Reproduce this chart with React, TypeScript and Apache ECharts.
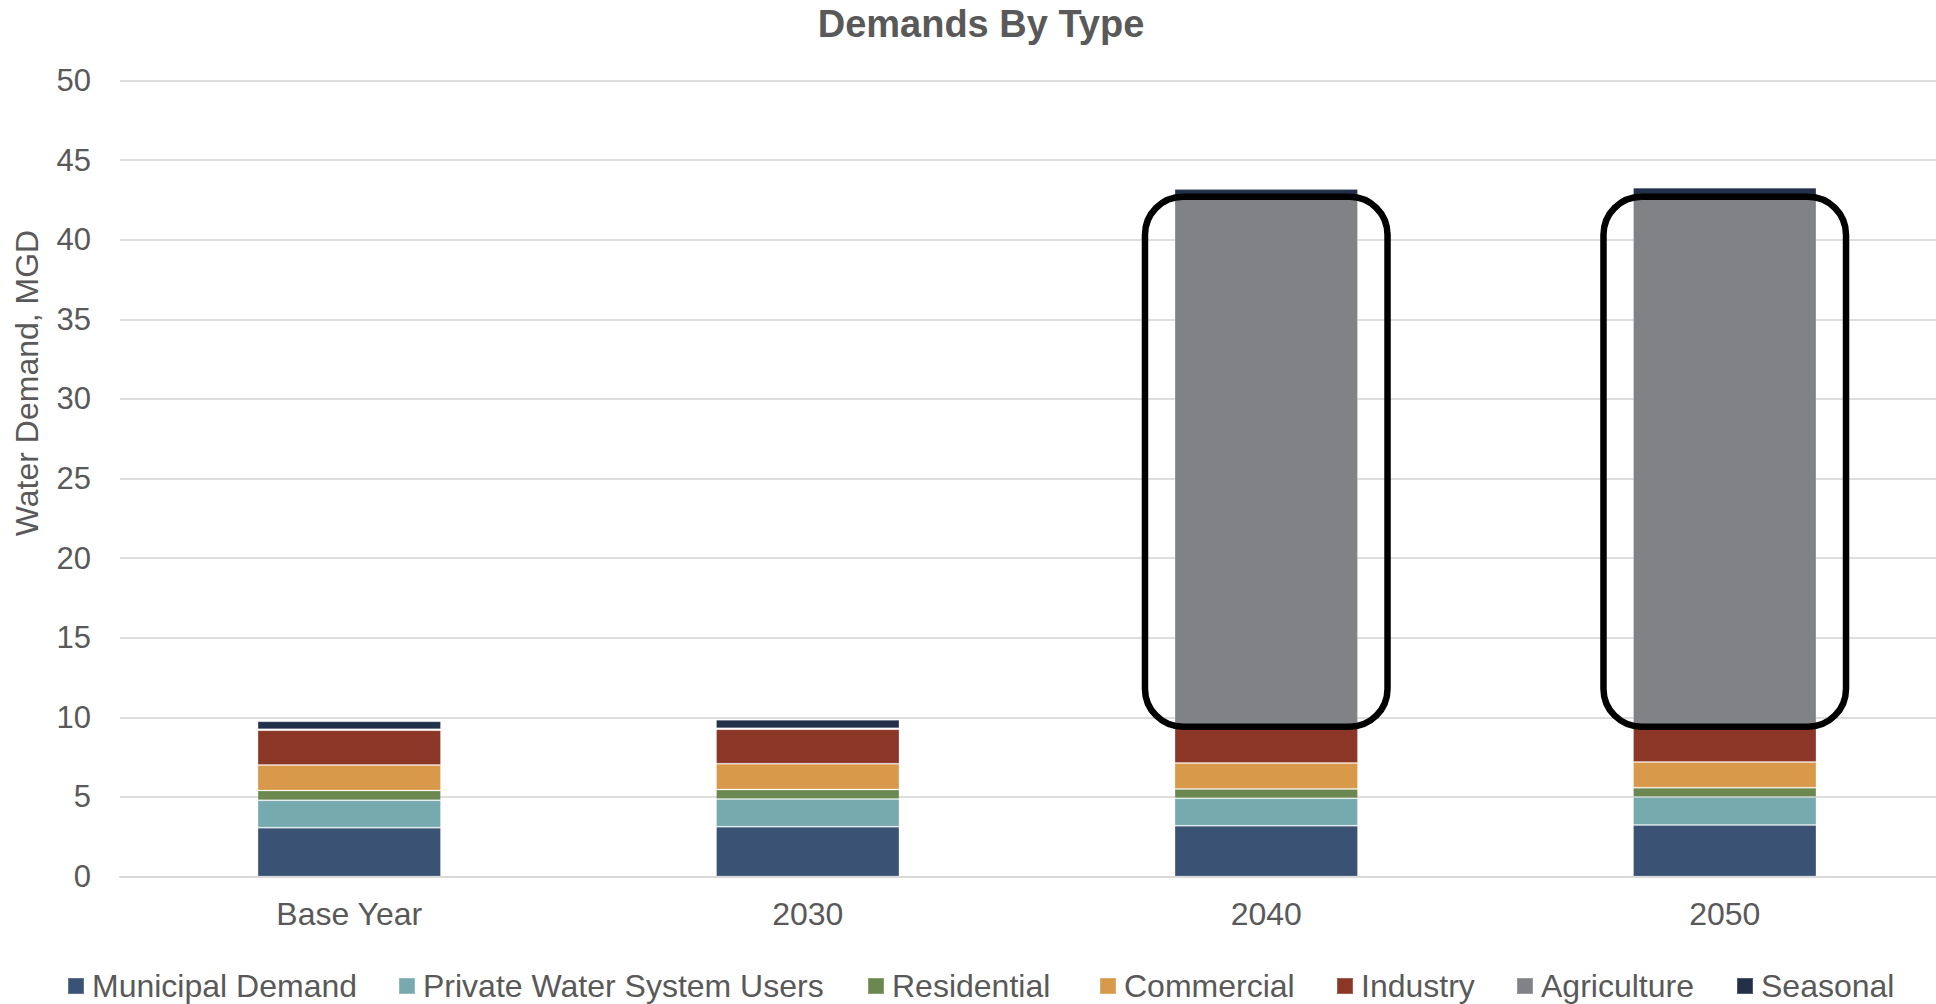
import React, { useEffect, useRef } from "react";
import * as echarts from "echarts";

// Water demand by type, MGD
const categories = ["Base Year", "2030", "2040", "2050"];
const municipal = [3.07, 3.13, 3.19, 3.23];
const privateUsers = [1.72, 1.74, 1.72, 1.76];
const residential = [0.61, 0.59, 0.59, 0.59];
const commercial = [1.61, 1.63, 1.63, 1.61];
const industry = [2.18, 2.16, 2.25, 2.27];
const agriculture = [0.06, 0.06, 33.31, 33.29];
const seasonal = [0.5, 0.53, 0.5, 0.52];

const seriesNames = [
  "Municipal Demand",
  "Private Water System Users",
  "Residential",
  "Commercial",
  "Industry",
  "Agriculture",
  "Seasonal",
];
const seriesValues = [municipal, privateUsers, residential, commercial, industry, agriculture, seasonal];
const seriesColors = ["#3A5273", "#76AAAE", "#6A8850", "#D9994B", "#8B3626", "#818286", "#223149"];

// y-axis range and step
const yMin = 0;
const yMax = 50;
const yStep = 5;

// highlighted columns (rounded outline spans these values)
const highlighted = ["2040", "2050"];
const outlineTopValue = 42.7;
const outlineBottomValue = 9.41;

// left edge of each legend entry
const legendLefts = [67, 398, 867, 1099, 1336, 1516, 1736];

const FONT = "'Liberation Sans', Arial, sans-serif";
const TEXT = "#595959";

export default function App() {
  const ref = useRef<HTMLDivElement>(null);

  useEffect(() => {
    if (!ref.current) return;
    const chart = echarts.init(ref.current, null, { renderer: "svg" });

    chart.setOption({
      animation: false,
      backgroundColor: "#ffffff",
      textStyle: { fontFamily: FONT },
      grid: { left: 120, top: 80.5, right: 0, height: 796, containLabel: false },
      legend: seriesNames.map((name, i) => ({
        data: [name],
        left: legendLefts[i],
        top: 970,
        padding: 0,
        icon: "rect",
        itemWidth: 16,
        itemHeight: 16,
        textStyle: { fontSize: 32, color: TEXT, fontFamily: FONT, padding: [0, 0, 0, 3] },
      })),
      xAxis: {
        type: "category",
        data: categories,
        axisTick: { show: false },
        axisLine: { lineStyle: { color: "#D9D9D9", width: 2 } },
        axisLabel: { fontSize: 32, color: TEXT, margin: 21, fontFamily: FONT },
      },
      yAxis: {
        type: "value",
        min: yMin,
        max: yMax,
        interval: yStep,
        axisLine: { show: false },
        axisTick: { show: false },
        axisLabel: { fontSize: 31, color: TEXT, margin: 29, fontFamily: FONT },
        splitLine: { lineStyle: { color: "#DDDDDD", width: 2 } },
      },
      series: seriesNames.map((name, i) => ({
        name,
        type: "bar",
        stack: "demand",
        barWidth: "40%",
        data: seriesValues[i],
        itemStyle: {
          color: seriesColors[i],
          borderColor: "rgba(255,255,255,0.2)",
          borderWidth: 1,
        },
      })),
    });

    // rounded outlines around the highlighted columns, placed through the axes
    const p0 = chart.convertToPixel({ xAxisIndex: 0, yAxisIndex: 0 }, [0, 0]) as number[];
    const p1 = chart.convertToPixel({ xAxisIndex: 0, yAxisIndex: 0 }, [1, 0]) as number[];
    const band = p1[0] - p0[0];
    const halfW = band * 0.2645;
    const outlines = highlighted.map((cat) => {
      const top = chart.convertToPixel({ xAxisIndex: 0, yAxisIndex: 0 }, [cat, outlineTopValue]) as number[];
      const bottom = chart.convertToPixel({ xAxisIndex: 0, yAxisIndex: 0 }, [cat, outlineBottomValue]) as number[];
      return {
        type: "rect",
        z: 100,
        shape: { x: top[0] - halfW, y: top[1], width: halfW * 2, height: bottom[1] - top[1], r: 38 },
        style: { fill: "none", stroke: "#000000", lineWidth: 6.5 },
      };
    });

    chart.setOption({
      graphic: [
        {
          type: "text",
          x: 981,
          y: 24,
          style: {
            text: "Demands By Type",
            fontSize: 38,
            fontWeight: "bold",
            fontFamily: FONT,
            fill: TEXT,
            align: "center",
            verticalAlign: "middle",
          },
        },
        {
          type: "text",
          x: 27,
          y: 383,
          rotation: Math.PI / 2,
          style: {
            text: "Water Demand, MGD",
            fontSize: 32,
            fontFamily: FONT,
            fill: TEXT,
            align: "center",
            verticalAlign: "middle",
          },
        },
        ...outlines,
      ],
    });

    return () => chart.dispose();
  }, []);

  // the plot area runs slightly past the right edge of the window
  return (
    <div
      ref={ref}
      style={{ position: "fixed", left: 0, top: 0, width: 1954, height: 1004 }}
    />
  );
}
